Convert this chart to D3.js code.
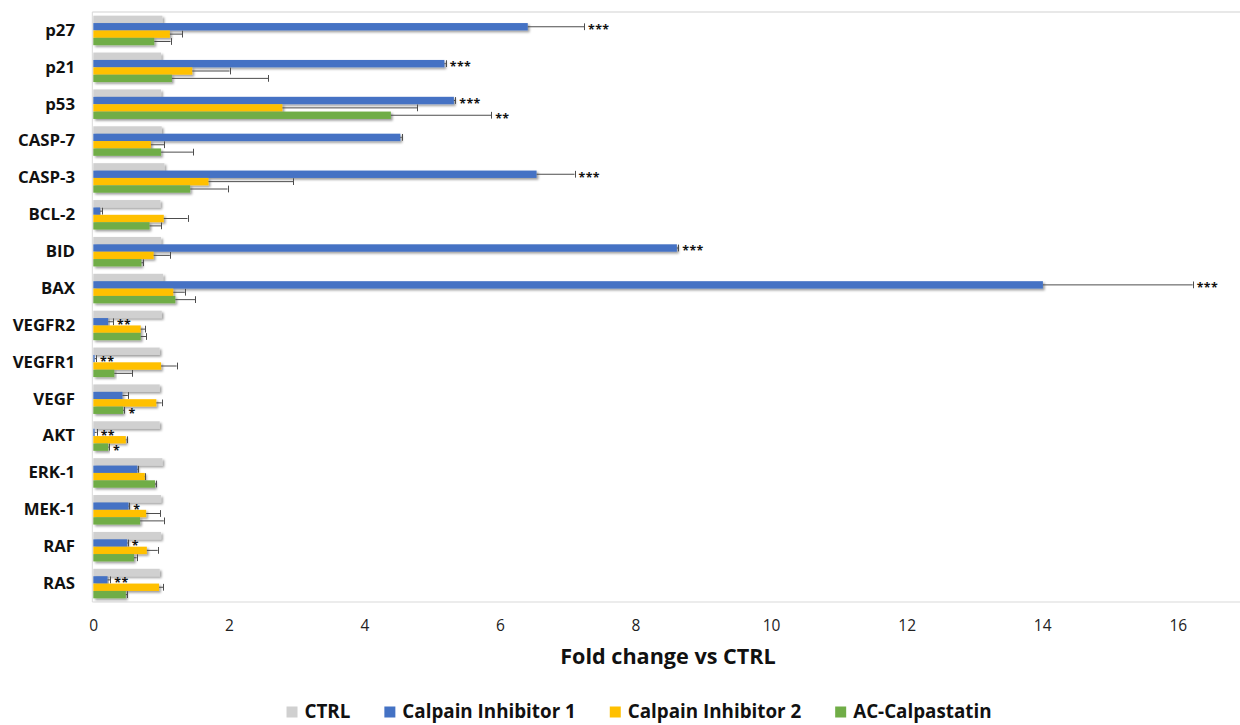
<!DOCTYPE html>
<html>
<head>
<meta charset="utf-8">
<script src="https://cdn.jsdelivr.net/npm/d3@7"></script>
<style>
  html, body { margin: 0; padding: 0; background: #fff; }
  svg { display: block; }
  text { font-family: "Open Sans", "Noto Sans", sans-serif; }
</style>
</head>
<body>
<svg id="chart" width="1240" height="725"></svg>
<script>
// Gene / protein targets, top to bottom
const categories = ["p27","p21","p53","CASP-7","CASP-3","BCL-2","BID","BAX",
                    "VEGFR2","VEGFR1","VEGF","AKT","ERK-1","MEK-1","RAF","RAS"];
const seriesNames = ["CTRL","Calpain Inhibitor 1","Calpain Inhibitor 2","AC-Calpastatin"];
const seriesColors = ["#d0d0d0","#4472c4","#ffc000","#70ad47"];

// Fold change means
const ctrl        = [1.02,1.00,1.00,1.01,1.05,0.99,1.00,1.03,1.01,0.98,0.98,0.98,1.02,1.00,1.00,0.98];
const inhibitor1  = [6.41,5.18,5.32,4.53,6.54,0.10,8.61,14.01,0.22,0.02,0.43,0.02,0.65,0.52,0.50,0.21];
const inhibitor2  = [1.13,1.46,2.79,0.85,1.70,1.04,0.89,1.18,0.70,1.00,0.93,0.48,0.76,0.78,0.79,0.97];
const calpastatin = [0.90,1.16,4.39,1.00,1.43,0.83,0.71,1.21,0.70,0.31,0.44,0.22,0.91,0.69,0.60,0.48];

// Upper error (SD) for the treated groups
const inhibitor1Err  = [0.83,0.02,0.02,0.02,0.56,0.03,0.02,2.21,0.07,0.02,0.08,0.03,0.01,0.01,0.01,0.04];
const inhibitor2Err  = [0.18,0.55,1.99,0.20,1.25,0.35,0.24,0.17,0.07,0.23,0.08,0.01,0.01,0.21,0.16,0.06];
const calpastatinErr = [0.24,1.42,1.48,0.47,0.55,0.17,0.03,0.29,0.08,0.26,0.02,0.01,0.02,0.35,0.04,0.02];

// Significance marks vs CTRL
const inhibitor1Sig  = ["***","***","***","","***","","***","***","**","**","","**","","*","*","**"];
const inhibitor2Sig  = ["","","","","","","","","","","","","","","",""];
const calpastatinSig = ["","","**","","","","","","","","*","*","","","",""];

const xTicks = [0,2,4,6,8,10,12,14,16];
const xTitle = "Fold change vs CTRL";

const seriesValues = [ctrl, inhibitor1, inhibitor2, calpastatin];
const seriesErrors = [null, inhibitor1Err, inhibitor2Err, calpastatinErr];
const seriesSig    = [null, inhibitor1Sig, inhibitor2Sig, calpastatinSig];

const svg = d3.select("#chart");
const W = 1240;
const plot = { left: 93.3, top: 12, bottom: 602 };

const x = d3.scaleLinear().domain([0, 17]).range([plot.left, plot.left + 17 * 67.78]);
const y = d3.scaleBand().domain(categories).range([plot.top, plot.bottom]).padding(0);
const ys = d3.scaleBand().domain(seriesNames).range([0, y.bandwidth()]).paddingInner(0).paddingOuter(0.5);

// soft drop shadow under bars
const defs = svg.append("defs");
const f = defs.append("filter").attr("id", "shadow")
  .attr("x", "-5%").attr("y", "-50%").attr("width", "115%").attr("height", "250%");
f.append("feDropShadow").attr("dx", 1.8).attr("dy", 1.8).attr("stdDeviation", 1.1)
  .attr("flood-color", "#000").attr("flood-opacity", 0.38);

// plot frame
svg.append("line").attr("x1", plot.left - 1).attr("x2", W).attr("y1", plot.top).attr("y2", plot.top)
  .attr("stroke", "#e8e8e8").attr("stroke-width", 2);
svg.append("line").attr("x1", plot.left - 1).attr("x2", W).attr("y1", plot.bottom).attr("y2", plot.bottom)
  .attr("stroke", "#d9d9d9").attr("stroke-width", 1);
svg.append("line").attr("x1", plot.left - 1).attr("x2", plot.left - 1).attr("y1", plot.top).attr("y2", plot.bottom)
  .attr("stroke", "#d9d9d9").attr("stroke-width", 1);

// rows of records per series
const rows = [];
seriesNames.forEach((s, si) => {
  categories.forEach((c, ci) => {
    rows.push({
      series: s, si, cat: c,
      value: seriesValues[si][ci],
      err: seriesErrors[si] ? seriesErrors[si][ci] : null,
      sig: seriesSig[si] ? seriesSig[si][ci] : ""
    });
  });
});

const barG = svg.append("g");
barG.selectAll("rect").data(rows).join("rect")
  .attr("x", x(0))
  .attr("y", d => y(d.cat) + ys(d.series))
  .attr("width", d => x(d.value) - x(0))
  .attr("height", ys.bandwidth())
  .attr("fill", d => seriesColors[d.si])
  .attr("filter", "url(#shadow)");

// plus error bars
const errRows = rows.filter(d => d.err !== null);
const errG = svg.append("g").attr("stroke", "#4d4d4d").attr("stroke-width", 1);
errG.selectAll("line.e").data(errRows).join("line").attr("class", "e")
  .attr("x1", d => x(d.value)).attr("x2", d => x(d.value + d.err))
  .attr("y1", d => y(d.cat) + ys(d.series) + ys.bandwidth() / 2)
  .attr("y2", d => y(d.cat) + ys(d.series) + ys.bandwidth() / 2);
errG.selectAll("line.c").data(errRows).join("line").attr("class", "c")
  .attr("x1", d => Math.round(x(d.value + d.err)) + 0.5).attr("x2", d => Math.round(x(d.value + d.err)) + 0.5)
  .attr("y1", d => y(d.cat) + ys(d.series) + 0.3)
  .attr("y2", d => y(d.cat) + ys(d.series) + ys.bandwidth() - 0.3);

// significance marks
svg.append("g").selectAll("text").data(rows.filter(d => d.sig)).join("text")
  .attr("x", d => x(d.value + (d.err || 0)) + 4)
  .attr("y", d => y(d.cat) + ys(d.series) + ys.bandwidth() / 2 + 7.4)
  .attr("font-family", "'DejaVu Sans', sans-serif")
  .attr("font-weight", 700)
  .attr("font-size", 12.4)
  .attr("letter-spacing", 0.4)
  .attr("fill", "#111")
  .text(d => d.sig);

// x axis
const xAxis = svg.append("g").attr("transform", `translate(0,${plot.bottom})`)
  .call(d3.axisBottom(x).tickValues(xTicks).tickSize(0).tickPadding(18));
xAxis.select(".domain").remove();
xAxis.selectAll("text").attr("font-size", 15.5).attr("fill", "#222")
  .attr("font-family", "'Open Sans', sans-serif");

// y axis
const yAxis = svg.append("g").attr("transform", `translate(${plot.left},0)`)
  .call(d3.axisLeft(y).tickSize(0).tickPadding(18.3));
yAxis.select(".domain").remove();
yAxis.selectAll("text").attr("font-size", 16.8).attr("font-weight", 700).attr("fill", "#111")
  .attr("font-family", "'Open Sans', sans-serif");

// x axis title
svg.append("text").attr("x", 668).attr("y", 664).attr("text-anchor", "middle")
  .attr("font-size", 21.6).attr("font-weight", 700).attr("fill", "#111").text(xTitle);

// legend, centred under the plot
const legend = svg.append("g");
const items = legend.selectAll("g").data(seriesNames).join("g");
items.append("rect").attr("width", 11).attr("height", 11).attr("y", 706.5)
  .attr("fill", (d, i) => seriesColors[i]);
items.append("text").attr("x", 18).attr("y", 717.8)
  .attr("font-size", 18.8).attr("font-weight", 700).attr("fill", "#111").text(d => d);
let cx = 0;
const offsets = [];
items.each(function () {
  offsets.push(cx);
  const w = d3.select(this).select("text").node().getComputedTextLength();
  cx += 18 + w + 34;
});
const total = cx - 34;
const start = 639 - total / 2;
items.attr("transform", (d, i) => `translate(${start + offsets[i]},0)`);
</script>
</body>
</html>
